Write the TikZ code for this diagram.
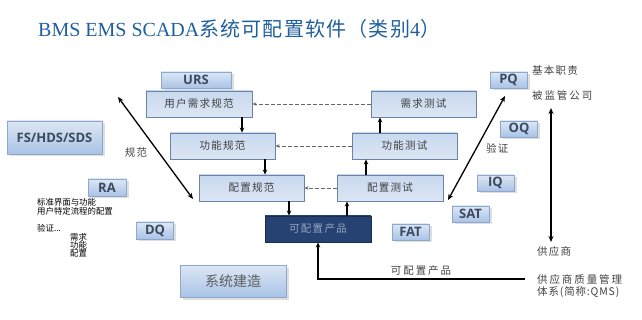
\documentclass[tikz,border=0pt]{standalone}
\usepackage{fontspec}
\setmainfont{Liberation Serif}
\newfontfamily\cjk{Noto Sans CJK SC}
\newfontfamily\cjksp[LetterSpace=12]{Noto Sans CJK SC}
\newfontfamily\cjktitle[LetterSpace=6]{Noto Sans CJK SC}
\newfontfamily\lab{Open Sans}
\usetikzlibrary{shadows,arrows.meta}
\definecolor{titleblue}{HTML}{1F5F9E}
\definecolor{procborder}{HTML}{6A82A6}
\definecolor{proctop}{HTML}{C8D9EF}
\definecolor{procbot}{HTML}{DCE6F3}
\definecolor{tagtop}{HTML}{DCE7F4}
\definecolor{tagbot}{HTML}{A9C3E6}
\definecolor{tagborder}{HTML}{8CA8CF}
\definecolor{tagtext}{HTML}{3B4A5E}
\definecolor{textgray}{HTML}{404040}
\definecolor{darkbox}{HTML}{254272}
\definecolor{darktext}{HTML}{95A6C2}
\tikzset{
  proc/.style={draw=procborder, line width=0.9pt, top color=proctop, bottom color=procbot,
    minimum width=105pt, minimum height=26pt, inner sep=0pt,
    font=\cjksp\fontsize{10.5}{12}\selectfont, text=textgray},
  tagbox/.style={draw=tagborder, line width=0.5pt, top color=tagtop, bottom color=tagbot,
    drop shadow={opacity=0.25, shadow xshift=2.5pt, shadow yshift=-2.5pt},
    minimum width=37pt, minimum height=16pt, inner sep=0pt,
    font=\lab\bfseries\fontsize{13}{14}\selectfont, text=tagtext},
  lbl/.style={font=\cjksp\fontsize{10.5}{12}\selectfont, text=textgray, inner sep=0pt},
  small/.style={font=\cjk\fontsize{8.4}{9}\selectfont, text=black, inner sep=0pt, anchor=west},
  arr/.style={-{Stealth[length=5pt,width=4.5pt]}, line width=1.4pt},
  darr/.style={{Stealth[length=6pt,width=5pt]}-{Stealth[length=6pt,width=5pt]}, line width=1.3pt},
  dash arr/.style={-{Stealth[length=4pt,width=3.5pt]}, dashed, dash pattern=on 3.5pt off 2.5pt, line width=0.7pt, draw=gray!80!black}
}
\begin{document}
\begin{tikzpicture}[x=1pt,y=-1pt]
\useasboundingbox (0,0) rectangle (642,320);
% title
\node[anchor=west, text=titleblue, inner sep=0pt, font=\fontsize{20}{24}\selectfont] (title) at (38,29)
  {BMS EMS SCADA{\cjktitle 系统可配置软件（类别}4{\cjktitle ）}};
% process boxes
\node[proc, minimum width=106pt] (usr) at (199,104) {用户需求规范};
\node[proc] (fun) at (222.5,146) {功能规范};
\node[proc] (cfg) at (251.5,188) {配置规范};
\node[proc, minimum width=106pt, fill=darkbox, draw=darkbox!70!black, top color=darkbox, bottom color=darkbox, text=darktext] (prod) at (318,229) {可配置产品};
\node[proc] (rt) at (423.5,104) {需求测试};
\node[proc] (ft) at (404.5,146) {功能测试};
\node[proc, minimum width=106pt] (ct) at (390,188) {配置测试};
% tag boxes
\node[tagbox, minimum width=70pt] (urs) at (196,80) {URS};
\node[tagbox, minimum width=95pt, minimum height=33pt] (fs) at (54.5,137.5) {FS/HDS/SDS};
\node[tagbox, minimum width=38pt, minimum height=17pt] (ra) at (107,187.5) {RA};
\node[tagbox, minimum height=17pt] (dq) at (155,230.5) {DQ};
\node[tagbox, minimum width=106pt, minimum height=32pt, font=\cjk\fontsize{14}{16}\selectfont, text=textgray!85] (sys) at (233,281) {系统建造};
\node[tagbox] (pq) at (508.5,80) {PQ};
\node[tagbox] (oq) at (519,129) {OQ};
\node[tagbox] (iq) at (495.5,183) {IQ};
\node[tagbox] (sat) at (470.5,214) {SAT};
\node[tagbox] (fat) at (410.5,232) {FAT};
% V-model arrows
\draw[arr] ([xshift=43pt]usr.south) -- ([xshift=19.5pt]fun.north);
\draw[arr] ([xshift=42.5pt]fun.south) -- ([xshift=13.5pt]cfg.north);
\draw[arr] ([xshift=37.5pt]cfg.south) -- ([xshift=-29pt]prod.north);
\draw[arr] ([xshift=29pt]prod.north) -- ([xshift=-43pt]ct.south);
\draw[arr] ([xshift=-24pt]ct.north) -- ([xshift=-38.5pt]ft.south);
\draw[arr] ([xshift=-24.5pt]ft.north) -- ([xshift=-43.5pt]rt.south);
\draw[dash arr] (rt.west) -- (usr.east);
\draw[dash arr] (ft.west) -- (fun.east);
\draw[dash arr] (ct.west) -- (cfg.east);
% diagonal and vertical arrows
\coordinate (la) at (118,97);
\coordinate (lb) at (193,199);
\coordinate (ra1) at (505,96);
\coordinate (rb) at (448,200);
\coordinate (va) at (551,108);
\coordinate (vb) at (551,242);
\draw[darr] (la) -- (lb);
\draw[darr] (ra1) -- (rb);
\draw[darr] (va) -- (vb);
% bottom line
\coordinate (qms) at (525,279);
\draw[arr, line width=1.6pt] (qms) -- (prod.south |- qms) -- (prod.south);
% labels
\node[lbl] (guifan) at (136,153) {规范};
\node[lbl, anchor=west] (yanzheng) at (486,148) {验证};
\node[lbl, anchor=west] (jiben) at (532,71) {基本职责};
\node[lbl, anchor=west, font=\cjk\addfontfeature{LetterSpace=18}\fontsize{10.5}{12}\selectfont] (beijian) at (532,95) {被监管公司};
\node[lbl, anchor=west] (gys) at (537,252) {供应商};
\node[lbl, anchor=west, font=\cjk\addfontfeature{LetterSpace=18}\fontsize{10.5}{12}\selectfont] (qms1) at (537,280) {供应商质量管理};
\node[lbl, anchor=west, font=\cjk\addfontfeature{LetterSpace=8}\fontsize{10.5}{12}\selectfont] (qms2) at (537,292) {体系(简称:QMS)};
\node[lbl, font=\cjk\addfontfeature{LetterSpace=18}\fontsize{10.5}{12}\selectfont] (kpz) at (421,271) {可配置产品};
% small notes
\node[small] (n1) at (37,202) {标准界面与功能};
\node[small] (n2) at (37,211) {用户特定流程的配置};
\node[small] (n3) at (37,228) {验证...};
\node[small] (n4) at (70,237) {需求};
\node[small] (n5) at (70,245) {功能};
\node[small] (n6) at (70,253) {配置};
\end{tikzpicture}
\end{document}
